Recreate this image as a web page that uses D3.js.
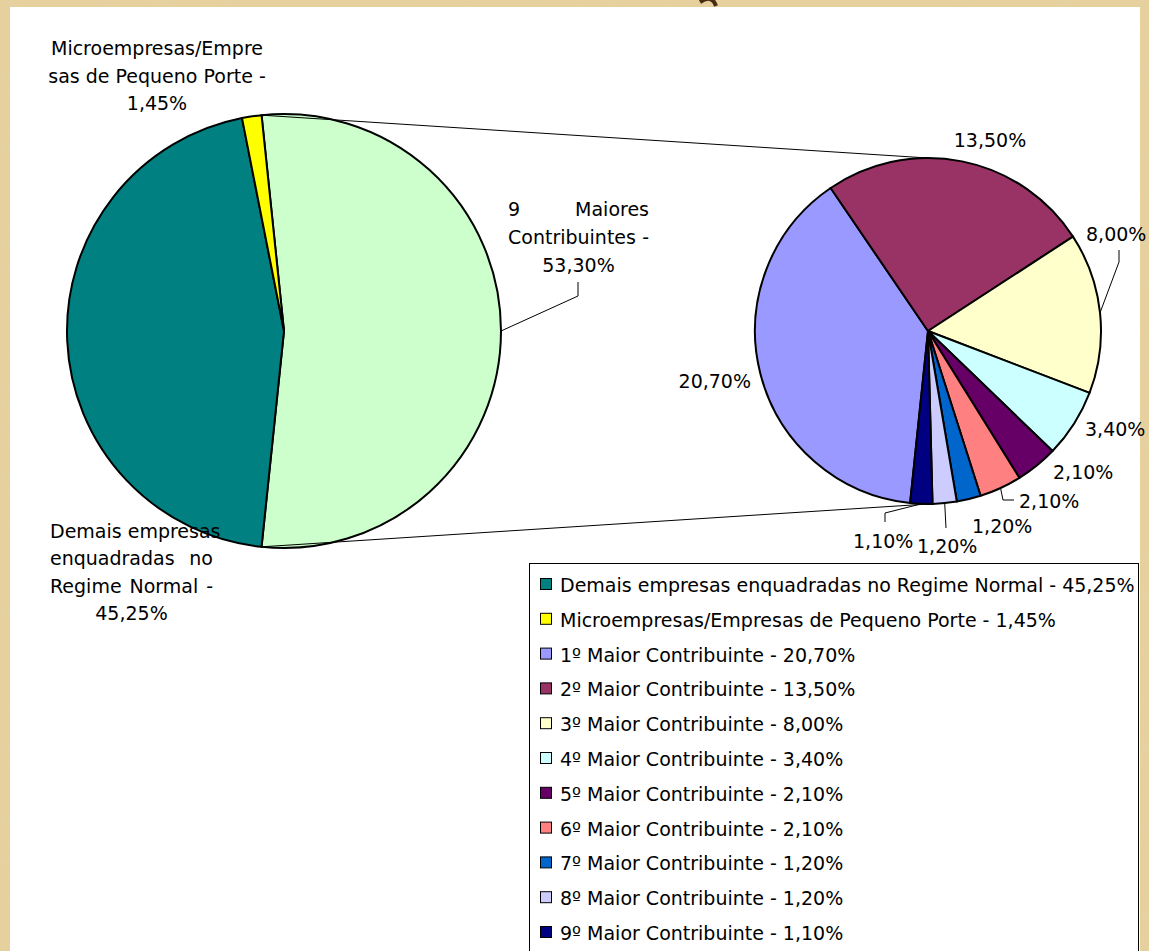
<!DOCTYPE html>
<html><head><meta charset="utf-8">
<script src="https://cdn.jsdelivr.net/npm/d3@7"></script>
<style>html,body{margin:0;padding:0;background:#e4ce9b;overflow:hidden}</style>
</head><body>
<svg id="c" width="1149" height="951"></svg>
<script>
// ---- data ----
const mainCategories = ["9 Maiores Contribuintes", "Demais empresas enquadradas no Regime Normal", "Microempresas/Empresas de Pequeno Porte"];
const mainValues = [53.30, 45.25, 1.45];
const mainColors = ["#ccffcc", "#008080", "#ffff00"];

const subCategories = ["1º Maior Contribuinte", "2º Maior Contribuinte", "3º Maior Contribuinte", "4º Maior Contribuinte", "5º Maior Contribuinte", "6º Maior Contribuinte", "7º Maior Contribuinte", "8º Maior Contribuinte", "9º Maior Contribuinte"];
const subValues = [20.70, 13.50, 8.00, 3.40, 2.10, 2.10, 1.20, 1.20, 1.10];
const subColors = ["#9999ff", "#993366", "#ffffcc", "#ccffff", "#660066", "#ff8080", "#0066cc", "#ccccff", "#000080"];

const fmt = v => d3.format(".2f")(v).replace(".", ",") + "%";

// ---- layout ----
const W = 1149, H = 951;
const svg = d3.select("#c");
const FONT = "DejaVu Sans";
const FS = 19;

// parchment background with a light texture
const defs = svg.append("defs");
const f = defs.append("filter").attr("id", "paper").attr("x", 0).attr("y", 0).attr("width", "100%").attr("height", "100%");
f.append("feTurbulence").attr("type", "fractalNoise").attr("baseFrequency", "0.04 0.15").attr("numOctaves", 3).attr("seed", 4);
f.append("feColorMatrix").attr("type", "matrix")
  .attr("values", "0 0 0 0 0.78  0 0 0 0 0.66  0 0 0 0 0.42  0 0 0 -1.4 0.75");
svg.append("rect").attr("width", W).attr("height", H).attr("fill", "#e6d09d");
svg.append("rect").attr("width", W).attr("height", H).attr("filter", "url(#paper)").attr("opacity", 0.5);

// remnant of slide title glyph at top edge (mostly hidden above the frame)
svg.append("path").attr("d", "M700,2 Q712,-6 716,6").attr("fill", "none")
  .attr("stroke", "#4a2a12").attr("stroke-width", 4);
svg.append("rect").attr("x", 10).attr("y", 7).attr("width", 1130).attr("height", 960).attr("fill", "#ffffff");

const mainC = {x: 284, y: 331, r: 217};
const subC = {x: 928, y: 331, r: 173};

const total = d3.sum(mainValues);
const frac = mainValues[0] / total;
const mainStart = Math.PI / 2 - frac * Math.PI;
const mainArcs = d3.pie().sort(null).value(d => d)
  .startAngle(mainStart).endAngle(mainStart + 2 * Math.PI)(mainValues);
const subStart = Math.PI / 2 + frac * Math.PI;
const subArcs = d3.pie().sort(null).value(d => d)
  .startAngle(subStart).endAngle(subStart + 2 * Math.PI)(subValues);

const pt = (c, a, r) => [c.x + r * Math.sin(a), c.y - r * Math.cos(a)];

// pies
const mainArc = d3.arc().innerRadius(0).outerRadius(mainC.r);
svg.append("g").attr("transform", `translate(${mainC.x},${mainC.y})`)
  .selectAll("path").data(mainArcs).join("path")
  .attr("d", mainArc).attr("fill", (d, i) => mainColors[i])
  .attr("stroke", "#000").attr("stroke-width", 2).attr("stroke-linejoin", "round");

const subArc = d3.arc().innerRadius(0).outerRadius(subC.r);
svg.append("g").attr("transform", `translate(${subC.x},${subC.y})`)
  .selectAll("path").data(subArcs).join("path")
  .attr("d", subArc).attr("fill", (d, i) => subColors[i])
  .attr("stroke", "#000").attr("stroke-width", 2).attr("stroke-linejoin", "round");

// connectors
const g0 = mainArcs[0];
const lines = [
  [pt(mainC, g0.startAngle, mainC.r), [subC.x, subC.y - subC.r]],
  [pt(mainC, g0.endAngle, mainC.r), [subC.x, subC.y + subC.r]]
];
svg.append("g").selectAll("line").data(lines).join("line")
  .attr("x1", d => d[0][0]).attr("y1", d => d[0][1])
  .attr("x2", d => d[1][0]).attr("y2", d => d[1][1])
  .attr("stroke", "#000").attr("stroke-width", 1);

// text helpers
function textEl(x, y, s, anchor) {
  return svg.append("text").attr("x", x).attr("y", y).attr("font-family", FONT)
    .attr("font-size", FS).attr("fill", "#000").attr("text-anchor", anchor || "start").text(s);
}
function justify(words, x0, x1, y) {
  const els = words.map(w => textEl(0, y, w));
  const ws = els.map(e => e.node().getComputedTextLength());
  const sum = d3.sum(ws);
  let gap = words.length > 1 ? (x1 - x0 - sum) / (words.length - 1) : 0;
  if (gap < FS * 0.3) gap = FS * 0.318;
  let x = x0;
  els.forEach((e, i) => { e.attr("x", x); x += ws[i] + gap; });
}
function leader(points) {
  svg.append("path").attr("d", d3.line()(points)).attr("fill", "none")
    .attr("stroke", "#000").attr("stroke-width", 1);
}

// main pie labels (line breaks as Excel wrapped them)
const mainLabelLayout = [
  {breaks: [9, 25], box: [508, 649], y: [216, 244, 272], elbow: [[578, 296], [578, 282]]},
  {breaks: [15, 30, 46], box: [50, 213], y: [538, 565, 593, 620]},
  {breaks: [19, 41], center: 157, y: [55, 83, 110]}
];
mainCategories.forEach((cat, i) => {
  const full = cat + " - " + fmt(mainValues[i]);
  const L = mainLabelLayout[i];
  const cuts = [0, ...L.breaks, full.length];
  const parts = d3.pairs(cuts).map(([a, b]) => full.slice(a, b).trim());
  parts.forEach((p, k) => {
    const last = k === parts.length - 1;
    if (L.center !== undefined) textEl(L.center, L.y[k], p, "middle");
    else if (last) textEl((L.box[0] + L.box[1]) / 2, L.y[k], p, "middle");
    else justify(p.split(/\s+/), L.box[0], L.box[1], L.y[k]);
  });
  if (L.elbow) {
    const a = (mainArcs[i].startAngle + mainArcs[i].endAngle) / 2;
    leader([pt(mainC, a, mainC.r), ...L.elbow]);
  }
});

// secondary pie labels
const subLabelLayout = [
  {x: 751, y: 388, anchor: "end"},
  {x: 990, y: 147, anchor: "middle"},
  {x: 1086, y: 241, elbow: [[1119, 262], [1119, 250]]},
  {x: 1085, y: 436},
  {x: 1053, y: 479},
  {x: 1019, y: 508, elbow: [[1003, 500], [1014, 500]]},
  {x: 972, y: 533},
  {x: 917, y: 553, elbow: [[946, 528]]},
  {x: 853, y: 548, elbow: [[885, 513], [885, 522]]}
];
subValues.forEach((v, i) => {
  const L = subLabelLayout[i];
  textEl(L.x, L.y, fmt(v), L.anchor);
  if (L.elbow) {
    const a = (subArcs[i].startAngle + subArcs[i].endAngle) / 2;
    leader([pt(subC, a, subC.r), ...L.elbow]);
  }
});

// legend
const legendNames = [mainCategories[1], mainCategories[2], ...subCategories];
const legendValues = [mainValues[1], mainValues[2], ...subValues];
const legendColors = [mainColors[1], mainColors[2], ...subColors];
const lg = svg.append("g");
lg.append("rect").attr("x", 529.5).attr("y", 563.5).attr("width", 609).attr("height", 420)
  .attr("fill", "#fff").attr("stroke", "#000").attr("stroke-width", 1);
const rowY = i => 592 + i * 34.8;
lg.selectAll("rect.sw").data(legendNames).join("rect").attr("class", "sw")
  .attr("x", 540.5).attr("y", (d, i) => rowY(i) - 13.5).attr("width", 11).attr("height", 11)
  .attr("fill", (d, i) => legendColors[i]).attr("stroke", "#000").attr("stroke-width", 1);
lg.selectAll("text").data(legendNames).join("text")
  .attr("x", 560).attr("y", (d, i) => rowY(i))
  .attr("font-family", FONT).attr("font-size", FS).attr("fill", "#000")
  .text((d, i) => d + " - " + fmt(legendValues[i]));
</script>
</body></html>
